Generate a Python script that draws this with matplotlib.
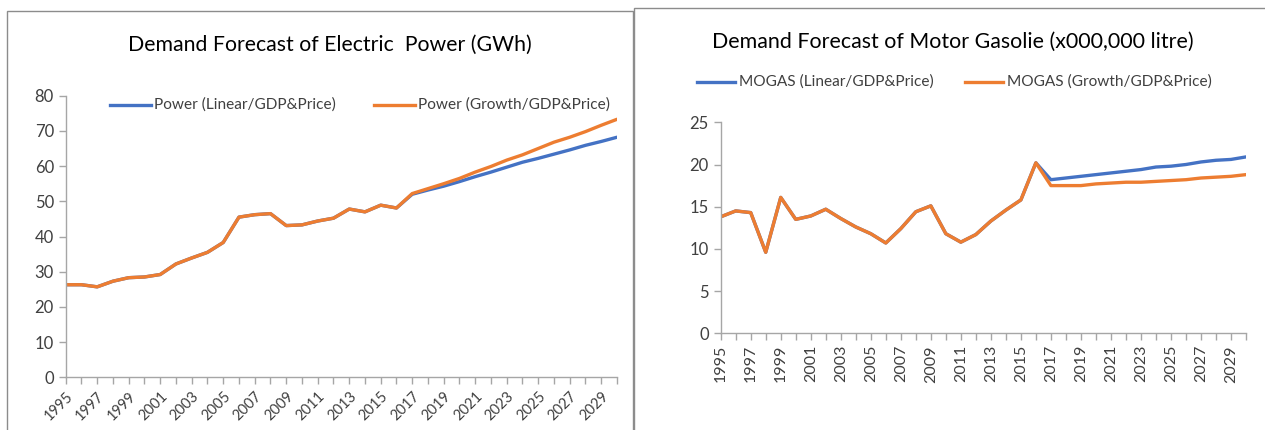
import matplotlib
matplotlib.use("Agg")
import matplotlib.pyplot as plt
from matplotlib.patches import Rectangle
from matplotlib.lines import Line2D

years = list(range(1995, 2031))

power_linear = [26.3, 26.3, 25.7, 27.3, 28.3, 28.5, 29.2, 32.2, 33.9, 35.5, 38.3, 45.5,
                46.2, 46.5, 43.1, 43.3, 44.4, 45.2, 47.8, 47.0, 48.9, 48.1, 52.0,
                53.2, 54.3, 55.6, 57.0, 58.3, 59.7, 61.1, 62.2, 63.4, 64.6, 65.9, 67.0, 68.2]
power_growth = [26.3, 26.3, 25.7, 27.3, 28.3, 28.5, 29.2, 32.2, 33.9, 35.5, 38.3, 45.5,
                46.2, 46.5, 43.1, 43.3, 44.4, 45.2, 47.8, 47.0, 48.9, 48.1, 52.2,
                53.6, 55.0, 56.5, 58.3, 59.9, 61.7, 63.2, 65.0, 66.8, 68.2, 69.8, 71.6, 73.3]

mogas_linear = [13.8, 14.5, 14.3, 9.6, 16.1, 13.5, 13.9, 14.7, 13.6, 12.6, 11.8, 10.7,
                12.4, 14.4, 15.1, 11.8, 10.8, 11.7, 13.3, 14.6, 15.8, 20.2, 18.2,
                18.4, 18.6, 18.8, 19.0, 19.2, 19.4, 19.7, 19.8, 20.0, 20.3, 20.5, 20.6, 20.9]
mogas_growth = [13.8, 14.5, 14.3, 9.6, 16.1, 13.5, 13.9, 14.7, 13.6, 12.6, 11.8, 10.7,
                12.4, 14.4, 15.1, 11.8, 10.8, 11.7, 13.3, 14.6, 15.8, 20.2, 17.5,
                17.5, 17.5, 17.7, 17.8, 17.9, 17.9, 18.0, 18.1, 18.2, 18.4, 18.5, 18.6, 18.8]

title_left = "Demand Forecast of Electric  Power (GWh)"
title_right = "Demand Forecast of Motor Gasolie (x000,000 litre)"
labels_left = ["Power (Linear/GDP&Price)", "Power (Growth/GDP&Price)"]
labels_right = ["MOGAS (Linear/GDP&Price)", "MOGAS (Growth/GDP&Price)"]
label_years = list(range(1995, 2030, 2))

BLUE = "#4472C4"
ORANGE = "#ED7D31"
GRAY = "#A6A6A6"
TXT = "#404040"

plt.rcParams['font.family'] = ['Lato', 'DejaVu Sans']

W, H = 1265, 430
fig = plt.figure(figsize=(W / 100, H / 100), dpi=100)

def fx(px):
    return px / W

def fy(py):
    return 1 - py / H

# panel frames
fig.patches.append(Rectangle((fx(7), fy(440)), fx(633) - fx(7), fy(11) - fy(440),
                             transform=fig.transFigure, fill=False, ec="#8c8c8c", lw=1))
fig.patches.append(Rectangle((fx(634), fy(440)), fx(1270) - fx(634), fy(8) - fy(440),
                             transform=fig.transFigure, fill=False, ec="#8c8c8c", lw=1))

def style_axes(ax):
    for s in ["top", "right"]:
        ax.spines[s].set_visible(False)
    for s in ["left", "bottom"]:
        ax.spines[s].set_color(GRAY)
        ax.spines[s].set_linewidth(1)
    ax.tick_params(axis="both", colors=GRAY, length=5, width=1, direction="out")
    ax.tick_params(axis="both", labelcolor=TXT)
    ax.set_xticks(years)
    ax.set_xticklabels([str(y) if y in label_years else "" for y in years])

# left
ax1 = fig.add_axes([fx(65.7), fy(377.3), fx(617) - fx(65.7), fy(95.7) - fy(377.3)])
ax1.plot(years, power_linear, color=BLUE, lw=2.4, solid_capstyle="round")
ax1.plot(years, power_growth, color=ORANGE, lw=2.4, solid_capstyle="round")
ax1.set_xlim(1995, 2030)
ax1.set_ylim(0, 80)
ax1.set_yticks(range(0, 81, 10))
style_axes(ax1)
ax1.tick_params(axis="y", labelsize=12)
ax1.tick_params(axis="x", labelsize=10.5)
for lab in ax1.get_xticklabels():
    lab.set_rotation(45)
    lab.set_ha("right")
    lab.set_rotation_mode("anchor")

fig.text(fx(330), fy(45), title_left, fontsize=15.3, color="#000000", ha="center", va="center")

# right
ax2 = fig.add_axes([fx(720.7), fy(333.3), fx(1246) - fx(720.7), fy(122.3) - fy(333.3)])
ax2.plot(years, mogas_linear, color=BLUE, lw=2.4, solid_capstyle="round")
ax2.plot(years, mogas_growth, color=ORANGE, lw=2.4, solid_capstyle="round")
ax2.set_xlim(1995, 2030)
ax2.set_ylim(0, 25)
ax2.set_yticks(range(0, 26, 5))
style_axes(ax2)
ax2.tick_params(axis="y", labelsize=12)
ax2.tick_params(axis="x", labelsize=11.5)
for lab in ax2.get_xticklabels():
    lab.set_rotation(90)
    lab.set_ha("center")

fig.text(fx(953), fy(42), title_right, fontsize=15.4, color="#000000", ha="center", va="center")

# legends (manual positions)
def legend_item(x0, x1, xt, y, color, text, size):
    fig.add_artist(Line2D([fx(x0), fx(x1)], [fy(y), fy(y)], transform=fig.transFigure,
                          color=color, lw=2.4))
    fig.text(fx(xt), fy(y), text, fontsize=size, color=TXT, ha="left", va="center")

legend_item(110, 151, 154, 105, BLUE, labels_left[0], 11.1)
legend_item(374, 415, 418, 105, ORANGE, labels_left[1], 11.1)
legend_item(697, 735, 739, 82, BLUE, labels_right[0], 11.1)
legend_item(965, 1003, 1007, 82, ORANGE, labels_right[1], 11.1)

fig.savefig("out.png", dpi=100, facecolor="white")
